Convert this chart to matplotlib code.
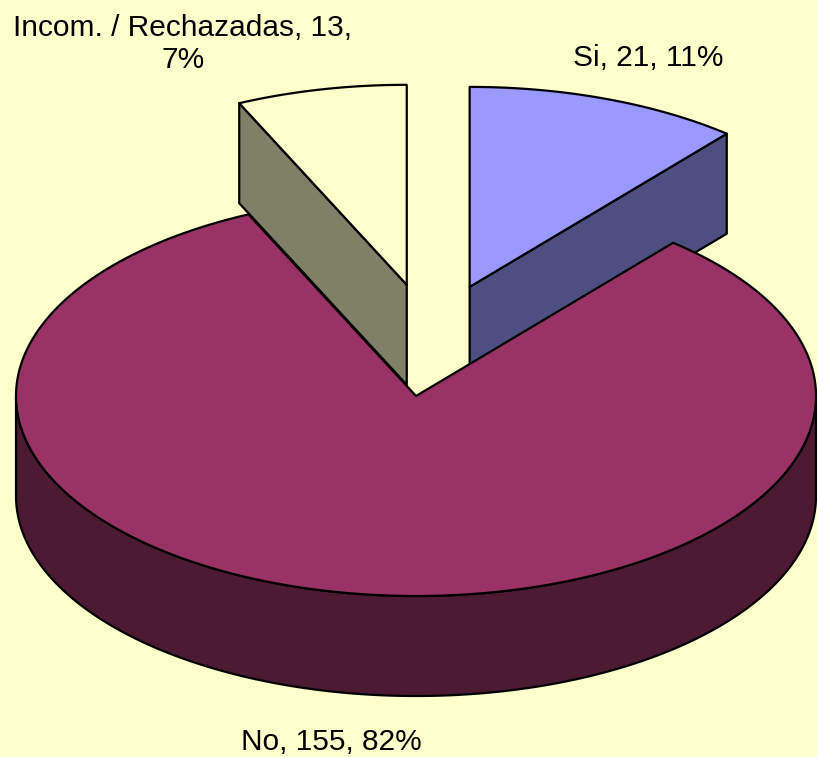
import matplotlib.pyplot as plt
from matplotlib.patches import Polygon
import numpy as np

plt.rcParams['font.family'] = ['Liberation Sans', 'DejaVu Sans']

labels = ['Si', 'No', 'Incom. / Rechazadas']
values = [21, 155, 13]
pcts = ['11%', '82%', '7%']
top_colors = ['#9999FF', '#993366', '#FFFFCC']
side_colors = ['#4D4F80', '#4D1A33', '#808066']
bg = '#FFFFCC'

# layout in pixel units (y grows downwards)
cx, cy = 431, 340
rx, ry = 400, 200
depth = 100
explode = 113

total = float(sum(values))
fig = plt.figure(figsize=(8.17, 7.57), dpi=100)
fig.patch.set_facecolor(bg)
ax = fig.add_axes([0, 0, 1, 1])
ax.set_xlim(0, 817)
ax.set_ylim(757, 0)
ax.axis('off')


def rim(x0, y0, t, dz=0):
    t = np.radians(t)
    return np.column_stack([x0 + rx * np.cos(t), y0 - ry * np.sin(t) + dz])


# slices go clockwise from 12 o'clock
slices = []
start = 90.0
for i, v in enumerate(values):
    sweep = v / total * 360
    t1, t2 = start - sweep, start
    mid = np.radians((t1 + t2) / 2)
    x0 = cx + explode * np.cos(mid)
    y0 = cy - explode * ry / rx * np.sin(mid)
    slices.append((i, t1, t2, mid, x0, y0))
    start = t1

# back to front
slices.sort(key=lambda s: -np.sin(s[3]))

for i, t1, t2, mid, x0, y0 in slices:
    kw = dict(edgecolor='black', linewidth=1.6, joinstyle='round')
    # cut faces
    for t, vis in ((t1, np.cos(np.radians(t1)) > 1e-6),
                   (t2, np.cos(np.radians(t2)) < -1e-6)):
        if vis:
            p = rim(x0, y0, [t])[0]
            quad = [(x0, y0), tuple(p), (p[0], p[1] + depth), (x0, y0 + depth)]
            ax.add_patch(Polygon(quad, closed=True, facecolor=side_colors[i], **kw))
    # outer wall, front half only
    ts = np.linspace(t1, t2, 600)
    ts = ts[np.sin(np.radians(ts)) < 0]
    if len(ts) > 1:
        up = rim(x0, y0, ts)
        down = rim(x0, y0, ts[::-1], depth)
        ax.add_patch(Polygon(np.vstack([up, down]), closed=True,
                             facecolor=side_colors[i], **kw))
    # top face
    arc = rim(x0, y0, np.linspace(t1, t2, 400))
    ax.add_patch(Polygon(np.vstack([[x0, y0], arc]), closed=True,
                         facecolor=top_colors[i], **kw))

fs = 21.5
ax.text(648, 66, '%s, %d, %s' % (labels[0], values[0], pcts[0]),
        ha='center', va='baseline', fontsize=fs)
ax.text(331, 750, '%s, %d, %s' % (labels[1], values[1], pcts[1]),
        ha='center', va='baseline', fontsize=fs)
ax.text(183, 68, '%s, %d,\n%s' % (labels[2], values[2], pcts[2]),
        ha='center', va='baseline', fontsize=fs, multialignment='center')

fig.savefig('out.png', dpi=100, facecolor=bg)
